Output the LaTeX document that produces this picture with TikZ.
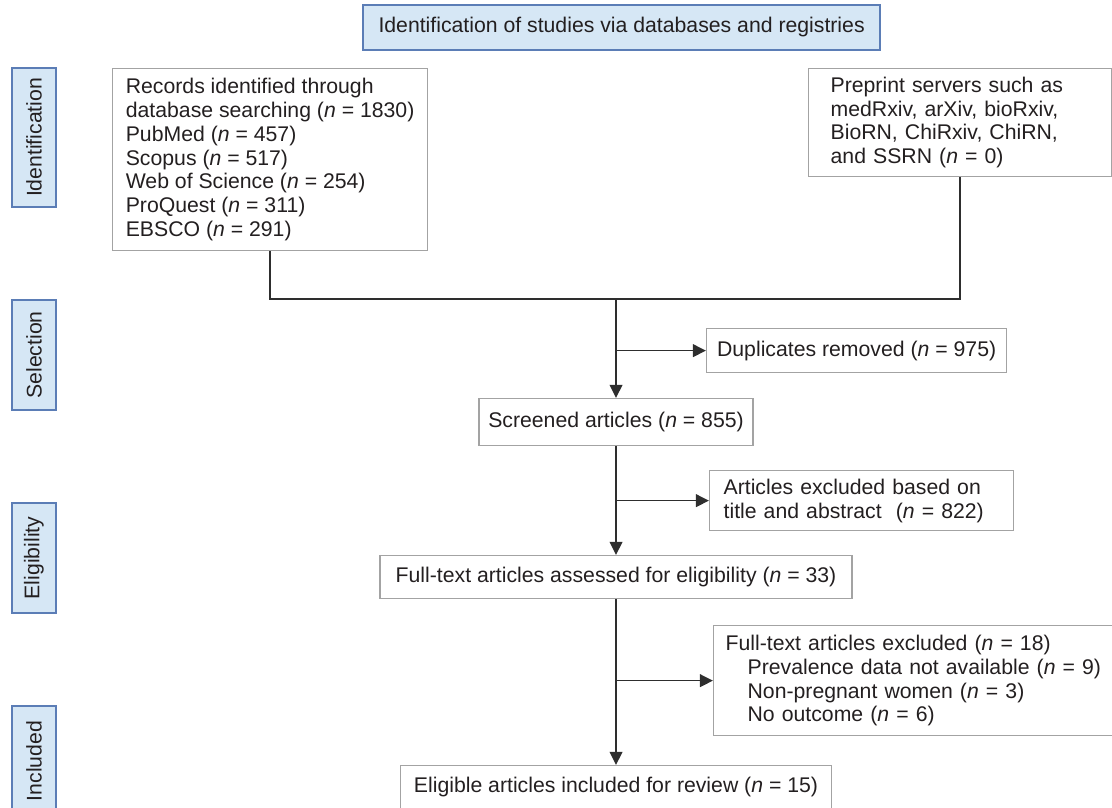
\documentclass[tikz,border=0pt]{standalone}
\usepackage{fontspec}
\setmainfont{Liberation Sans}
\usepackage{tikz}
\usetikzlibrary{arrows.meta,calc}
\definecolor{hdfill}{HTML}{D6E7F5}
\definecolor{hdline}{HTML}{5B7DB6}
\definecolor{boxline}{HTML}{A3A3A3}
\definecolor{lnc}{HTML}{2E2E2E}
\definecolor{txt}{HTML}{231F20}
\newcommand{\nn}{\textit{n}}

\begin{document}
\begin{tikzpicture}[>={Triangle[length=0.33cm, width=0.32cm]}, font=\fontsize{15.1}{16.9}\selectfont, text=txt]
	\tikzset{hd/.style={draw=hdline, fill=hdfill, line width=0.9pt, inner sep=0pt}}
	\tikzset{bx/.style={draw=boxline, line width=0.9pt, inner sep=0pt, align=center}}
	\tikzset{lbx/.style={bx, anchor=north west, align=left}}
	\tikzset{ln/.style={draw=lnc, line width=1.1pt}}
	\useasboundingbox (0,0) rectangle (27.8,20.175);
	\clip (0,0) rectangle (27.8,20.175);
	% heading
	\node[hd, minimum width=12.925cm, minimum height=1.125cm] (head) at (15.54,19.49) {Identification of studies via databases and registries};
	% stage labels
	\node[hd, rotate=90, minimum width=3.475cm, minimum height=1.1cm] (lid) at (0.85,16.74) {Identification};
	\node[hd, rotate=90, minimum width=2.75cm, minimum height=1.1cm] (lsel) at (0.85,11.3) {Selection};
	\node[hd, rotate=90, minimum width=2.75cm, minimum height=1.1cm] (lelig) at (0.85,6.225) {Eligibility};
	\node[hd, rotate=90, minimum width=2.75cm, minimum height=1.1cm] (linc) at (0.85,1.15) {Included};
	% sources
	\node[lbx, inner xsep=0.33cm, minimum height=4.55cm] (rec) at (2.8,18.475) {Records identified through\\database searching (\nn{} = 1830)\\PubMed (\nn{} = 457)\\Scopus (\nn{} = 517)\\Web of Science (\nn{} = 254)\\ProQuest (\nn{} = 311)\\EBSCO (\nn{} = 291)};
	\node[lbx, inner xsep=0.55cm, text width=6.475cm, minimum height=2.7cm] (pre) at (20.2,18.475) {Preprint servers such as\\medRxiv, arXiv, bioRxiv,\\BioRN, ChiRxiv, ChiRN,\\and SSRN (\nn{} = 0)};
	% merge
	\coordinate (j) at (15.4,12.7);
	\draw[ln] (rec.south) -- (rec.south |- j) -- (pre.south |- j) -- (pre.south);
	% screening
	\node[bx, anchor=north, minimum width=6.85cm, minimum height=1.175cm] (scr) at (15.4,10.225) {Screened articles (\nn{} = 855)};
	\node[bx, anchor=north west, minimum width=7.5cm, minimum height=1.1cm] (dup) at (17.65,11.975) {Duplicates removed (\nn{} = 975)};
	\draw[ln, ->] (j) -- (scr);
	\draw[ln, ->] (j |- dup.west) -- (dup.west);
	% eligibility
	\node[lbx, inner xsep=0.35cm, text width=6.9cm, minimum height=1.5cm] (ex1) at (17.725,8.425) {Articles excluded based on\\title and abstract~ (\nn{} = 822)};
	\node[bx, anchor=north, minimum width=11.8cm, minimum height=1.075cm] (full) at (15.4,6.3) {Full-text articles assessed for eligibility (\nn{} = 33)};
	\draw[ln, ->] (scr) -- (full);
	\draw[ln, ->] (scr.south |- ex1.west) -- (ex1.west);
	% included
	\node[lbx, inner xsep=0.3cm, text width=9.55cm, minimum height=2.75cm] (ex2) at (17.825,4.55) {Full-text articles excluded (\nn{} = 18)\\\hspace*{0.55cm}Prevalence data not available (\nn{} = 9)\\\hspace*{0.55cm}Non-pregnant women (\nn{} = 3)\\\hspace*{0.55cm}No outcome (\nn{} = 6)};
	\node[bx, anchor=north, minimum width=10.775cm, minimum height=1.075cm] (elig) at (15.4,1.05) {Eligible articles included for review (\nn{} = 15)};
	\draw[ln, ->] (full) -- (elig);
	\draw[ln, ->] (full.south |- ex2.west) -- (ex2.west);
\end{tikzpicture}
\end{document}
